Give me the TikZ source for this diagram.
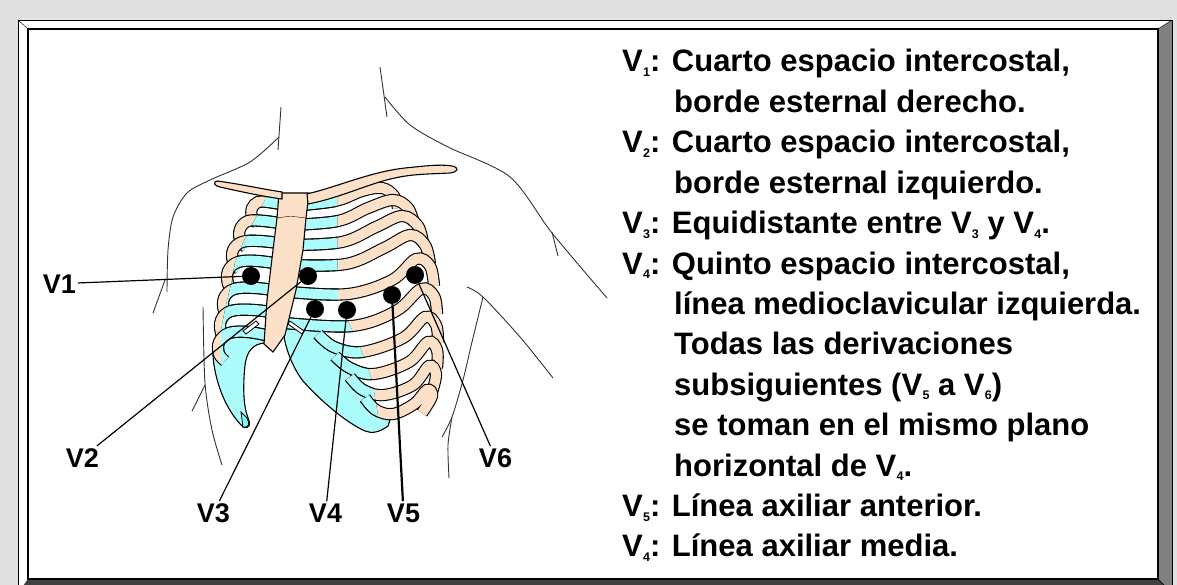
\documentclass[tikz,border=0pt]{standalone}
\usepackage{fontspec}
\setmainfont{Liberation Sans}
\usetikzlibrary{calc}

\definecolor{peach}{RGB}{252,225,200}
\definecolor{cartilage}{RGB}{172,252,252}
\definecolor{panel}{RGB}{224,224,224}
\definecolor{bevel}{RGB}{128,128,128}
\definecolor{beveldark}{RGB}{64,64,64}

% V with a small lowered index
\newcommand{\Vsub}[1]{V\kern.01em\raisebox{-.15em}{\fontsize{12.5}{12.5}\selectfont#1}}

% ribs of the left half of the chest (right of the picture)
\newcommand{\ribsright}[1]{%
  \draw[#1] plot[smooth, tension=0.6] coordinates {(290,206) (335,201) (362,191) (382,188) (394,196) (398,208)};
  \draw[#1] plot[smooth, tension=0.6] coordinates {(290,225) (338,221) (368,208) (393,200) (408,208) (414,224)};
  \draw[#1] plot[smooth, tension=0.6] coordinates {(290,245) (342,242) (376,227) (402,216) (418,226) (423,244)};
  \draw[#1] plot[smooth, tension=0.6] coordinates {(290,265) (346,264) (384,248) (410,235) (425,245) (430,264)};
  \draw[#1] plot[smooth, tension=0.6] coordinates {(290,292) (348,294) (392,280) (416,259) (430,266) (434,286)};
  \draw[#1] plot[smooth, tension=0.6] coordinates {(285,323) (352,326) (396,311) (421,289) (434,296) (437,314)};
  \draw[#1] plot[smooth, tension=0.6] coordinates {(318,334) (334,347) (362,352) (403,338) (425,317) (436,325) (438,342)};
  \draw[#1] plot[smooth, tension=0.6] coordinates {(335,356) (350,368) (374,374) (409,362) (428,342) (437,350) (437,368)};
  \draw[#1] plot[smooth, tension=0.6] coordinates {(350,377) (363,390) (384,395) (413,385) (429,366) (436,374) (432,392)};
  \draw[#1] plot[smooth, tension=0.6] coordinates {(365,398) (376,410) (393,414) (414,404) (427,390) (432,396) (422,413)};
}
% ribs of the right half of the chest (left of the picture)
\newcommand{\ribsleft}[1]{%
  \draw[#1] plot[smooth, tension=0.6] coordinates {(286,205) (268,202) (258,202) (252,208) (252,217) (257,223)};
  \draw[#1] plot[smooth, tension=0.6] coordinates {(286,224) (264,221) (248,221) (240,229) (240,240) (246,247)};
  \draw[#1] plot[smooth, tension=0.6] coordinates {(286,244) (260,241) (242,242) (233,250) (233,262) (239,269)};
  \draw[#1] plot[smooth, tension=0.6] coordinates {(286,265) (258,261) (238,262) (228,271) (228,284) (234,291)};
  \draw[#1] plot[smooth, tension=0.6] coordinates {(286,292) (256,288) (234,289) (224,298) (224,311) (230,318)};
  \draw[#1] plot[smooth, tension=0.6] coordinates {(284,314) (254,310) (231,311) (221,320) (221,333) (227,340)};
  \draw[#1] plot[smooth, tension=0.6] coordinates {(270,336) (248,332) (229,333) (219,342) (219,354) (225,361)};
}

\tikzset{
  skin/.style={draw=black!80, line width=0.9pt},
  bone/.style={draw=black, line width=1.1pt, fill=peach},
  rib/.style={draw=black, line width=1.1pt, double=peach, double distance=10pt},
  gristle/.style={rib, double=cartilage},
  electrode/.style={circle, fill=black, minimum size=18pt, inner sep=0pt},
  lead label/.style={font=\fontsize{27}{32}\selectfont\bfseries, inner sep=2pt, anchor=base},
  leader/.style={draw=black, line width=1.2pt},
  legend line/.style={font=\fontsize{31}{37}\selectfont\bfseries, inner sep=0pt, anchor=base west},
}

\begin{document}
\begin{tikzpicture}[x=1pt, y=-1pt]
\useasboundingbox (0,0) rectangle (1177,585);
% Grey ground and bevelled frame
\fill[panel] (0,0) rectangle (1177,585);
\fill[white] (18,20) -- (1172,20) -- (1158,29) -- (28,29) -- (28,579) -- (18,593) -- cycle;
\fill[bevel] (1172,20) -- (1158,29) -- (1158,579) -- (1172,593) -- cycle;
\fill[beveldark] (28,579) -- (1158,579) -- (1172,593) -- (18,593) -- cycle;
\draw (18,20) rectangle (1172,593);
\draw (18,20) -- (28,29) (1172,20) -- (1158,29) (1158,579) -- (1172,593);
\draw[line width=1.5pt, fill=white] (28,29) rectangle (1158,579);

% Outline of neck, shoulders and flanks
\draw[skin] (281,107) -- (278,150);
\draw[skin] plot[smooth] coordinates {(279,137) (250,162) (210,180) (187,193) (173,217) (168,250) (167,292)};
\draw[skin] (165,280) -- (153,313);
\draw[skin] plot[smooth] coordinates {(203,307) (205,383) (212,430) (222,465)};
\draw[skin] (205,385) -- (192,411);
\draw[skin] (380,67) -- (387,117);
\draw[skin] plot[smooth] coordinates {(385,97) (410,125) (448,147) (510,177) (552,233) (607,298)};
\draw[skin] (552,232) -- (558,256);
\draw[skin] plot[smooth] coordinates {(467,287) (483,297) (520,337) (553,378)};
\draw[skin] plot[smooth] coordinates {(483,297) (472,342) (463,380) (452,417) (442,437)};
\draw[skin] plot[smooth] coordinates {(452,417) (448,445) (449,478)};

% Costal cartilage below the ribs
\draw[bone, fill=cartilage] (268,336) -- (222,334) .. controls (212,340) and (212,352) .. (214,365)
  .. controls (218,390) and (228,412) .. (243,427) .. controls (250,429) and (251,424) .. (248,418)
  .. controls (243,405) and (243,385) .. (245,365) .. controls (247,350) and (254,344) .. (264,343) -- cycle;
\fill[cartilage!70!cyan, draw=black, line width=0.8pt] (241,412) -- (247,418) .. controls (250,424) and (249,428) .. (243,427) -- cycle;
\draw[bone, fill=cartilage] (288,318) -- (320,325) -- (330,345) -- (345,365) -- (358,388) -- (372,405) -- (392,414) -- (388,426)
  .. controls (380,432) and (372,434) .. (365,431) .. controls (345,422) and (320,400) .. (303,381)
  .. controls (293,368) and (286,350) .. (284,336) -- cycle;

% Ribs, cartilage part near the sternum
\ribsright{rib}
\begin{scope}
  \clip (280,180) -- (337,180) -- (338,300) -- (360,347) -- (372,380) -- (382,440) -- (280,440) -- cycle;
  \ribsright{gristle}
\end{scope}
\ribsleft{rib}
\begin{scope}
  \clip (292,180) -- (268,180) -- (265,200) -- (253,223) -- (243,243) -- (235,263) -- (231,285) -- (226,305) -- (221,330) -- (221,400) -- (292,400) -- cycle;
  \ribsleft{gristle}
\end{scope}
\draw[fill=white, line width=0.8pt] (243,331) -- (256,321) -- (259,324) -- (246,334) -- cycle;
\draw[fill=white, line width=0.8pt] (290,321) -- (304,331) -- (302,334) -- (288,324) -- cycle;

% Sternum and clavicles
\draw[bone] (279,193) -- (309,193) -- (306,218) -- (303,250) -- (296,290) -- (285,335) -- (273,352) -- (264,344) -- (267,300) -- (273,250) -- (277,218) -- cycle;
\draw (277,218) .. controls (290,216) .. (306,218);
\draw[bone] (217,181) .. controls (240,184) and (262,189) .. (282,192) -- (282,199)
  .. controls (260,196) and (238,191) .. (220,187) .. controls (214,186) and (213,182) .. (217,181) -- cycle;
\draw[bone] (307,194) .. controls (340,186) and (370,172) .. (405,168) .. controls (425,166) and (440,164) .. (452,166)
  .. controls (460,168) and (458,172) .. (450,173) .. controls (430,174) and (412,174) .. (395,178)
  .. controls (370,183) and (340,198) .. (308,204) -- cycle;

% Electrodes, labels and leader lines
\node[electrode] (v1-dot) at (251,276) {};
\node[electrode] (v2-dot) at (308,276) {};
\node[electrode] (v3-dot) at (315,309) {};
\node[electrode] (v4-dot) at (347,310) {};
\node[electrode] (v5-dot) at (392,295) {};
\node[electrode] (v6-dot) at (415,275) {};
\node[lead label] (v1-label) at (59.5,293) {V1};
\node[lead label] (v2-label) at (82.5,467) {V2};
\node[lead label] (v3-label) at (213.5,522) {V3};
\node[lead label] (v4-label) at (325.5,522) {V4};
\node[lead label] (v5-label) at (403.5,522) {V5};
\node[lead label] (v6-label) at (495.5,467) {V6};
\draw[leader] (v1-label) -- (v1-dot);
\draw[leader] (v2-label) -- (v2-dot);
\draw[leader] (v3-label) -- (v3-dot);
\draw[leader] (v4-label) -- (v4-dot);
\draw[leader, line width=2.2pt] (v5-label) -- (v5-dot);
\draw[leader] (v6-label) -- (v6-dot);

% Legend
\foreach \n/\xpos/\txt in {
  0/622/{\Vsub{1}: Cuarto espacio intercostal,},
  1/674/{borde esternal derecho.},
  2/622/{\Vsub{2}: Cuarto espacio intercostal,},
  3/674/{borde esternal izquierdo.},
  4/622/{\Vsub{3}: Equidistante entre \Vsub{3} y \Vsub{4}.},
  5/622/{\Vsub{4}: Quinto espacio intercostal,},
  6/674/{línea medioclavicular izquierda.},
  7/674/{Todas las derivaciones},
  8/674/{subsiguientes (\Vsub{5} a \Vsub{6})},
  9/674/{se toman en el mismo plano},
  10/674/{horizontal de \Vsub{4}.},
  11/622/{\Vsub{5}: Línea axiliar anterior.},
  12/622/{\Vsub{4}: Línea axiliar media.}}
  \node[legend line] (legend-\n) at (\xpos, {72+40.4*\n}) {\txt};
\end{tikzpicture}
\end{document}
